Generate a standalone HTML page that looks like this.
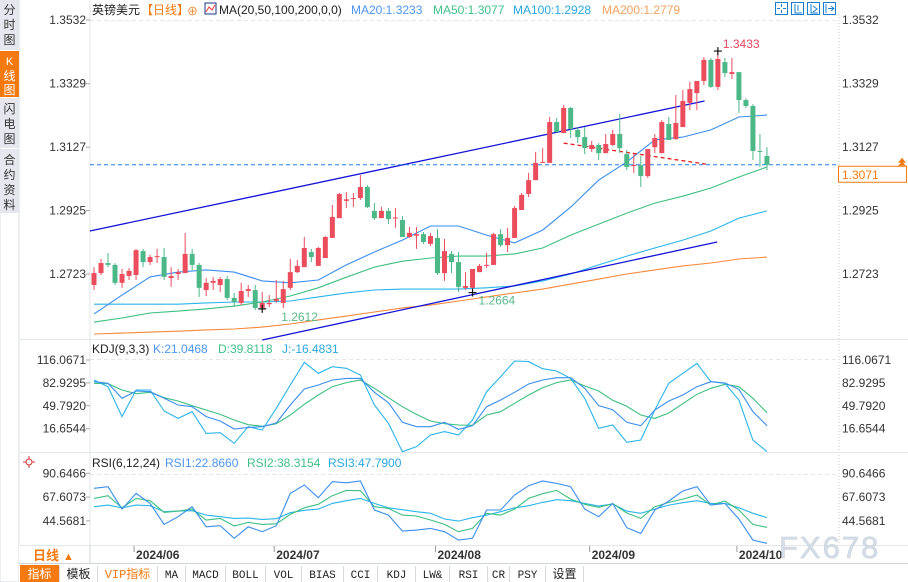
<!DOCTYPE html>
<html><head><meta charset="utf-8"><style>
html,body{margin:0;padding:0;background:#fff;}
body{width:908px;height:582px;overflow:hidden;position:relative;font-family:"Liberation Sans","Noto Sans CJK SC",sans-serif;}
svg{position:absolute;left:0;top:0;}
</style></head><body>
<svg id="chart" width="908" height="582" viewBox="0 0 908 582" xmlns="http://www.w3.org/2000/svg" font-family="Liberation Sans, Noto Sans CJK SC, sans-serif">
  <rect width="908" height="582" fill="#fff"/>
  <g>
    <rect x="0" y="0" width="19" height="582" fill="#fff" stroke="#d8dbe2"/>
    <g><rect x="0" y="0" width="19" height="50" fill="#e6e7ee"/><text x="9.5" y="14" font-size="12" text-anchor="middle" fill="#333">分</text><text x="9.5" y="29" font-size="12" text-anchor="middle" fill="#333">时</text><text x="9.5" y="44" font-size="12" text-anchor="middle" fill="#333">图</text></g>
    <g><rect x="0" y="51" width="19" height="46" fill="#f47a10"/><text x="9.5" y="65" font-size="11" text-anchor="middle" fill="#fff">K</text><text x="9.5" y="80" font-size="12" text-anchor="middle" fill="#fff">线</text><text x="9.5" y="94" font-size="12" text-anchor="middle" fill="#fff">图</text></g>
    <g><rect x="0" y="98" width="19" height="50" fill="#e6e7ee"/><text x="9.5" y="113" font-size="12" text-anchor="middle" fill="#333">闪</text><text x="9.5" y="128" font-size="12" text-anchor="middle" fill="#333">电</text><text x="9.5" y="143" font-size="12" text-anchor="middle" fill="#333">图</text></g>
    <g><rect x="0" y="149" width="19" height="64" fill="#e6e7ee"/><text x="9.5" y="164" font-size="12" text-anchor="middle" fill="#333">合</text><text x="9.5" y="179" font-size="12" text-anchor="middle" fill="#333">约</text><text x="9.5" y="194" font-size="12" text-anchor="middle" fill="#333">资</text><text x="9.5" y="209" font-size="12" text-anchor="middle" fill="#333">料</text></g>
  </g>
  <line x1="90" y1="0" x2="90" y2="546" stroke="#e3e6ea"/>
  <line x1="839" y1="14" x2="839" y2="546" stroke="#c8c8c8" stroke-dasharray="1,2"/>
  <line x1="19" y1="339.5" x2="908" y2="339.5" stroke="#e3e6ea"/>
  <line x1="19" y1="452.5" x2="908" y2="452.5" stroke="#e3e6ea"/>
  <line x1="19" y1="545.5" x2="908" y2="545.5" stroke="#e3e6ea"/>
  <line x1="19" y1="563.5" x2="908" y2="563.5" stroke="#d0d3d8"/>
  <line x1="90" y1="20.5" x2="839" y2="20.5" stroke="#e6e6e6" stroke-dasharray="4,3"/>
  <line x1="90" y1="359.5" x2="839" y2="359.5" stroke="#e6e6e6" stroke-dasharray="4,3"/>
  <line x1="90" y1="474.5" x2="839" y2="474.5" stroke="#e6e6e6" stroke-dasharray="4,3"/>
  <g font-size="12">
    <text x="92" y="14" fill="#222">英镑美元</text>
    <text x="141" y="14" fill="#f47a10">【日线】</text>
    <text x="187" y="15" fill="#f47a10" font-size="11">⊕</text>
    <g><rect x="205" y="3" width="11" height="11" fill="#fff" stroke="#1a3a8a"/><polyline points="206,12 209,7 212,10 215,5" fill="none" stroke="#e33" stroke-width="1"/></g>
    <text x="219" y="14" fill="#222">MA(20,50,100,200,0,0)</text>
    <text x="351" y="14" fill="#4d95f0">MA20:1.3233</text>
    <text x="433" y="14" fill="#3fc08a">MA50:1.3077</text>
    <text x="513" y="14" fill="#2aa8e0">MA100:1.2928</text>
    <text x="602" y="14" fill="#f5a260">MA200:1.2779</text>
  </g>
  <g stroke="#1a7fd0" fill="none">
    <rect x="775.5" y="2.5" width="12" height="12"/><rect x="791.5" y="2.5" width="12" height="12"/><rect x="807.5" y="2.5" width="12" height="12"/><rect x="823.5" y="2.5" width="12" height="12"/>
    <path d="M781.5 4v3M781.5 10v3M777 8.5h3M783 8.5h3M795 4v9h7M798 5v6M811 4v9h7M813 6l4 3-4 3M826 4v9M828 8.5h6M831 6l3 2.5-3 2.5"/>
  </g>
  <g id="axes"></g>
  <g id="overlays"></g>
  <g id="candles"></g>
  <g id="kdj">
    <text x="92" y="353" font-size="12" fill="#222">KDJ(9,3,3)</text>
    <text x="153" y="353" font-size="12" fill="#4d95f0">K:21.0468</text>
    <text x="218" y="353" font-size="12" fill="#3fc08a">D:39.8118</text>
    <text x="282" y="353" font-size="12" fill="#2aa8e0">J:-16.4831</text>
  </g>
  <g id="rsi">
    <g><circle cx="29" cy="462" r="3" fill="none" stroke="#c33"/><path d="M29 456v3M29 465v3M23 462h3M32 462h3" stroke="#c33"/></g>
    <text x="92" y="467" font-size="12" fill="#222">RSI(6,12,24)</text>
    <text x="165" y="467" font-size="12" fill="#4d95f0">RSI1:22.8660</text>
    <text x="247" y="467" font-size="12" fill="#3fc08a">RSI2:38.3154</text>
    <text x="328" y="467" font-size="12" fill="#2aa8e0">RSI3:47.7900</text>
  </g>
  <g>
    <rect x="19" y="546" width="71" height="17" fill="#fff"/>
    <text x="33" y="560" font-size="13" font-weight="bold" fill="#f47a10">日线</text>
    <text x="63" y="560" font-size="11" fill="#f47a10">▲</text>
  </g>
  <g id="xaxis"></g>
  <text x="779" y="558" font-size="31" fill="#d5dde8" stroke="#c5ccd6" stroke-width="0.5" letter-spacing="2">FX678</text>
  <g id="toolbar" font-family="Liberation Mono, Noto Sans CJK SC, monospace" font-size="11"></g>
</svg>
<script>
var opens = [1.2688,1.2726,1.2758,1.2752,1.2695,1.2717,1.2720,1.2796,1.2761,1.2777,1.2777,1.2710,1.2723,1.2726,1.2787,1.2752,1.2672,1.2695,1.2688,1.2707,1.2647,1.2631,1.2669,1.2672,1.2615,1.2627,1.2637,1.2631,1.2679,1.2729,1.2745,1.2793,1.2749,1.2774,1.2838,1.2901,1.2956,1.2962,1.2965,1.3000,1.2924,1.2901,1.2924,1.2900,1.2895,1.2841,1.2845,1.2850,1.2819,1.2838,1.2726,1.2787,1.2761,1.2679,1.2679,1.2729,1.2749,1.2752,1.2850,1.2815,1.2838,1.2927,1.2978,1.3022,1.3077,1.3077,1.3207,1.3172,1.3252,1.3182,1.3159,1.3121,1.3134,1.3108,1.3134,1.3169,1.3105,1.3067,1.3070,1.3035,1.3127,1.3108,1.3201,1.3153,1.3191,1.3268,1.3299,1.3338,1.3405,1.3319,1.3398,1.3360,1.3366,1.3277,1.3258,1.3115,1.3099];
var highs = [1.2745,1.2771,1.2790,1.2758,1.2739,1.2742,1.2803,1.2803,1.2784,1.2803,1.2806,1.2745,1.2739,1.2854,1.2803,1.2758,1.2710,1.2714,1.2714,1.2717,1.2663,1.2695,1.2688,1.2688,1.2666,1.2656,1.2704,1.2701,1.2771,1.2768,1.2841,1.2803,1.2809,1.2844,1.2943,1.2981,1.2984,1.2981,1.3038,1.3006,1.2949,1.2937,1.2933,1.2933,1.2908,1.2873,1.2873,1.2857,1.2854,1.2866,1.2835,1.2796,1.2793,1.2729,1.2739,1.2755,1.2790,1.2854,1.2866,1.2870,1.2940,1.2981,1.3045,1.3112,1.3124,1.3223,1.3220,1.3261,1.3255,1.3191,1.3191,1.3147,1.3140,1.3169,1.3182,1.3233,1.3118,1.3105,1.3099,1.3121,1.3169,1.3213,1.3223,1.3293,1.3309,1.3335,1.3338,1.3414,1.3411,1.3433,1.3411,1.3411,1.3366,1.3283,1.3264,1.3169,1.3127];
var lows = [1.2672,1.2720,1.2745,1.2688,1.2679,1.2704,1.2704,1.2745,1.2752,1.2758,1.2704,1.2682,1.2704,1.2726,1.2736,1.2650,1.2653,1.2672,1.2666,1.2640,1.2618,1.2624,1.2650,1.2608,1.2612,1.2618,1.2631,1.2615,1.2672,1.2726,1.2745,1.2761,1.2749,1.2774,1.2838,1.2901,1.2933,1.2936,1.2959,1.2933,1.2895,1.2901,1.2882,1.2870,1.2841,1.2838,1.2803,1.2819,1.2812,1.2720,1.2701,1.2726,1.2666,1.2672,1.2663,1.2729,1.2742,1.2752,1.2809,1.2793,1.2838,1.2927,1.2968,1.3022,1.3077,1.3077,1.3175,1.3172,1.3156,1.3140,1.3105,1.3112,1.3086,1.3108,1.3131,1.3108,1.3054,1.3045,1.3000,1.3029,1.3108,1.3108,1.3150,1.3150,1.3191,1.3245,1.3245,1.3325,1.3316,1.3309,1.3350,1.3344,1.3236,1.3252,1.3086,1.3064,1.3054];
var closes = [1.2726,1.2758,1.2752,1.2695,1.2723,1.2733,1.2799,1.2761,1.2777,1.2780,1.2714,1.2717,1.2729,1.2787,1.2752,1.2679,1.2695,1.2701,1.2707,1.2647,1.2634,1.2669,1.2675,1.2615,1.2631,1.2631,1.2644,1.2675,1.2729,1.2749,1.2806,1.2777,1.2806,1.2841,1.2905,1.2978,1.2961,1.2965,1.3000,1.2936,1.2901,1.2924,1.2898,1.2903,1.2841,1.2854,1.2850,1.2825,1.2844,1.2726,1.2796,1.2761,1.2682,1.2685,1.2739,1.2749,1.2752,1.2850,1.2815,1.2838,1.2933,1.2975,1.3022,1.3077,1.3080,1.3207,1.3175,1.3252,1.3185,1.3159,1.3124,1.3134,1.3108,1.3137,1.3169,1.3124,1.3064,1.3070,1.3035,1.3121,1.3156,1.3207,1.3150,1.3204,1.3274,1.3312,1.3338,1.3405,1.3319,1.3408,1.3363,1.3366,1.3277,1.3258,1.3115,1.3112,1.3071];
var sampleStep = 4;
var ma20  = [1.2596,1.2656,1.2714,1.2729,1.2736,1.2729,1.2701,1.2695,1.2704,1.2752,1.2793,1.2831,1.2876,1.2876,1.2847,1.2822,1.2863,1.2936,1.3022,1.3080,1.3150,1.3159,1.3182,1.3223,1.3229];
var ma50  = [1.2570,1.2583,1.2599,1.2605,1.2612,1.2621,1.2634,1.2653,1.2679,1.2713,1.2745,1.2764,1.2774,1.2780,1.2780,1.2787,1.2806,1.2847,1.2882,1.2917,1.2949,1.2971,1.2997,1.3032,1.3064];
var ma100 = [1.2627,1.2627,1.2627,1.2627,1.2631,1.2634,1.2634,1.2637,1.2650,1.2663,1.2672,1.2675,1.2675,1.2675,1.2679,1.2685,1.2701,1.2723,1.2752,1.2780,1.2806,1.2831,1.2860,1.2901,1.2924];
var ma200 = [1.2532,1.2535,1.2538,1.2541,1.2545,1.2548,1.2554,1.2564,1.2577,1.2589,1.2602,1.2615,1.2624,1.2637,1.2650,1.2663,1.2675,1.2691,1.2707,1.2723,1.2736,1.2749,1.2758,1.2771,1.2777];
var indStep = 2;
var kVals = [84.7,82.3,60.6,71.2,70.2,60.6,51.0,48.5,34.1,27.8,16.2,18.6,19.6,24.9,51.0,74.1,79.9,87.1,89.5,89.5,69.3,54.3,25.9,19.6,19.6,25.9,15.7,21.0,48.5,58.2,69.3,81.3,87.1,90.5,90.5,75.1,50.0,44.2,25.9,21.0,43.7,56.7,65.4,77.5,84.7,82.8,73.6,41.3,21.0];
var dVals = [82.3,81.8,72.6,67.3,69.3,61.5,56.7,50.0,43.7,37.4,29.2,22.5,20.1,23.9,36.5,51.9,65.4,77.5,83.3,87.1,75.1,61.5,48.5,37.4,27.8,23.9,22.0,21.5,36.5,41.3,53.4,65.4,76.0,83.3,87.1,78.4,71.2,57.7,49.0,36.5,31.6,39.4,52.9,66.4,75.1,80.9,77.5,60.6,39.8];
var jVals = [87.1,77.5,34.1,72.6,72.6,42.3,31.6,41.3,9.9,10.9,-4.5,19.6,14.7,46.1,79.9,112.7,96.8,106.4,104.0,94.4,51.0,24.4,-16.6,-9.4,7.5,12.4,7.5,29.2,70.2,91.9,114.6,113.7,103.5,100.2,89.5,60.6,17.2,22.0,-3.1,0.3,43.7,82.3,96.8,111.2,84.7,82.3,58.2,0.3,-16.5];
var rsi1 = [76.1,77.7,56.0,71.2,61.5,41.2,48.6,58.3,38.9,39.9,27.7,38.9,34.1,39.9,71.2,79.3,67.0,82.5,81.5,83.2,55.1,50.2,34.7,35.7,37.3,34.1,26.0,27.7,55.1,55.1,69.6,78.6,83.2,80.9,77.7,56.0,48.6,61.5,38.0,32.5,55.1,63.8,73.5,77.7,59.9,61.5,46.4,26.0,22.9];
var rsi2 = [66.4,69.0,57.3,66.4,64.1,52.8,54.1,56.0,45.4,47.0,39.6,43.1,41.2,41.8,50.9,57.3,60.6,69.0,74.1,73.8,58.3,56.7,50.2,49.3,45.4,41.2,34.1,37.3,51.9,50.2,56.0,66.4,70.9,74.1,65.7,60.6,57.7,61.2,52.2,47.0,58.3,62.5,65.7,69.6,59.9,63.8,55.1,41.2,38.3];
var rsi3 = [58.3,59.9,57.3,59.9,59.3,53.5,54.1,54.4,50.2,48.6,47.0,47.3,46.0,46.7,52.5,54.8,56.0,61.5,64.1,66.4,61.5,57.3,55.4,53.5,51.9,46.4,44.4,47.7,50.2,53.5,57.3,59.3,62.5,65.1,64.1,61.5,58.9,60.9,54.1,51.9,56.0,59.9,62.2,64.1,61.5,61.5,57.3,51.9,47.8];
var priceTicks = [1.3532,1.3329,1.3127,1.2925,1.2723];
var kdjTicks = [116.0671,82.9295,49.7920,16.6544];
var rsiTicks = [90.6466,67.6073,44.5681];
var monthLabels = ["2024/06","2024/07","2024/08","2024/09","2024/10"];
var monthIndex = [6,26,49,71,92];
var lastPrice = 1.3071;
var highMark = {i:89, p:1.3433, label:"1.3433"};
var lowMarks = [{i:24, p:1.2612, label:"1.2612"},{i:54, p:1.2664, label:"1.2664"}];
var upperChannel = [[-0.6,1.2860],[87.1,1.3274]];
var lowerChannel = [[24.0,1.2513],[88.9,1.2825]];
var dashedTrend = [[67.0,1.3140],[87.3,1.3073]];
var toolbarLabels = ["指标","模板","VIP指标","MA","MACD","BOLL","VOL","BIAS","CCI","KDJ","LW&","RSI","CR","PSY","设置"];
var toolbarX = [20,60,98,158,186,226,266,302,344,378,416,450,488,510,546,584];

function xOf(i){return 94 + i*7.01;}
function yP(p){return 20 + (1.3532 - p)*3140;}
function yK(v){return 360 + (116.07 - v)*0.691;}
function yR(v){return 473.3 + (90.65 - v)*1.033;}
var NS="http://www.w3.org/2000/svg";
function mk(tag, attrs, parent){var e=document.createElementNS(NS,tag);for(var k in attrs)e.setAttribute(k,attrs[k]);parent.appendChild(e);return e;}

var axes=document.getElementById('axes');
function axisLabels(ticks, yf, name){
  ticks.forEach(function(t){
    var y=yf(t);
    var l=mk('text',{x:86,y:y+4,'font-size':12,'text-anchor':'end',fill:'#333'},axes);
    
    
    l.textContent=t.toFixed(4);
    var r=mk('text',{x:842,y:y+4,'font-size':12,fill:'#333'},axes);
    
    
    r.textContent=t.toFixed(4);
    mk('line',{x1:86,x2:90,y1:y,y2:y,stroke:'#aaa'},axes);
  });
}
axisLabels(priceTicks,yP,'price-axis');
axisLabels(kdjTicks,yK,'kdj-axis');
axisLabels(rsiTicks,yR,'rsi-axis');

var ov=document.getElementById('overlays');
function series(arr, step, yf, color, name, parent){
  var pts=arr.map(function(v,k){return xOf(k*step).toFixed(1)+','+yf(v).toFixed(1);}).join(' ');
  var pl=mk('polyline',{points:pts,fill:'none',stroke:color,'stroke-width':1.1},parent);
  
  
}
series(ma200,sampleStep,yP,'#f7893a','ma200-line',ov);
series(ma100,sampleStep,yP,'#2ab4ea','ma100-line',ov);
series(ma50,sampleStep,yP,'#3cbf80','ma50-line',ov);
series(ma20,sampleStep,yP,'#3a8ef0','ma20-line',ov);
function seg(p, color, name, dash){
  var l=mk('line',{x1:xOf(p[0][0]),y1:yP(p[0][1]),x2:xOf(p[1][0]),y2:yP(p[1][1]),stroke:color,'stroke-width':1.3},ov);
  if(dash) l.setAttribute('stroke-dasharray',dash);
  
  
}
seg(upperChannel,'#1414d8','upper-channel-line');
seg(lowerChannel,'#1414d8','lower-channel-line');
seg(dashedTrend,'#e02020','dashed-trend-line','4,3');
var lpY=yP(lastPrice);
var lp=mk('line',{x1:90,x2:839,y1:lpY,y2:lpY,stroke:'#1e7ff0','stroke-dasharray':'4,3'},ov);


var box=mk('rect',{x:838.5,y:lpY+1.5,width:68,height:16,fill:'#fff',stroke:'#f47a10'},ov);


var bt=mk('text',{x:842,y:lpY+14,'font-size':12,fill:'#f47a10'},ov);


bt.textContent=lastPrice.toFixed(4);
mk('path',{d:'M898 '+(lpY-2)+'l4 -5l4 5z M898 '+(lpY+1)+'l4 -4l4 4z',fill:'#f47a10'},ov);

var cg=document.getElementById('candles');
closes.forEach(function(c,i){
  var o=opens[i], up=c>=o, col=up?'#ec4d5d':'#4cb888';
  var x=xOf(i);
  var w=mk('line',{x1:x,x2:x,y1:yP(highs[i]),y2:yP(lows[i]),stroke:col,'stroke-width':1},cg);
  
  
  var t=yP(Math.max(o,c)), b=yP(Math.min(o,c));
  var r=mk('rect',{x:x-2.5,y:t,width:5,height:Math.max(1,b-t),fill:col},cg);
  
  
});
function marker(m){
  var x=xOf(m.i), y=yP(m.p);
  mk('path',{d:'M'+(x-4)+' '+y+'h8M'+x+' '+(y-4)+'v8',stroke:'#111','stroke-width':1.2},cg);
  return [x,y];
}
var hm=marker(highMark);
var ht=mk('text',{x:hm[0]+5,y:hm[1]-3,'font-size':12,fill:'#e8455e'},cg);


ht.textContent=highMark.label;
lowMarks.forEach(function(m){
  var p=marker(m);
  var t=mk('text',{x:p[0]+(m.i<40?19:6),y:p[1]+12,'font-size':12,fill:'#5cb88a'},cg);
  
  
  t.textContent=m.label;
});

var kg=document.getElementById('kdj');
series(dVals,indStep,yK,'#3cbf80','kdj-d-line',kg);
series(jVals,indStep,yK,'#2ab4ea','kdj-j-line',kg);
series(kVals,indStep,yK,'#3a8ef0','kdj-k-line',kg);
var rg=document.getElementById('rsi');
series(rsi3,indStep,yR,'#2ab4ea','rsi3-line',rg);
series(rsi2,indStep,yR,'#3cbf80','rsi2-line',rg);
series(rsi1,indStep,yR,'#3a8ef0','rsi1-line',rg);

var xg=document.getElementById('xaxis');
mk('line',{x1:90,x2:90,y1:546,y2:563,stroke:'#d0d3d8'},xg);
monthLabels.forEach(function(m,k){
  var x=xOf(monthIndex[k]);
  mk('line',{x1:x-2,x2:x-2,y1:546,y2:552,stroke:'#999'},xg);
  var t=mk('text',{x:x,y:559,'font-size':12,'font-weight':'bold',fill:'#333'},xg);
  
  
  t.textContent=m;
});

var tb=document.getElementById('toolbar');
mk('rect',{x:19,y:564,width:889,height:18,fill:'#fff'},tb);
toolbarLabels.forEach(function(lbl,k){
  var x0=toolbarX[k], x1=toolbarX[k+1]-1;
  var g=mk('g',{},tb);
  
  
  mk('rect',{x:x0,y:565,width:x1-x0,height:17,fill:k===0?'#f47a10':'#fff'},g);
  mk('line',{x1:x1+0.5,x2:x1+0.5,y1:566,y2:582,stroke:'#d8dbe0'},g);
  var t=mk('text',{x:(x0+x1)/2,y:578,'text-anchor':'middle','font-size':k<3||k===14?12:11,fill:k===0?'#fff':(k===2?'#f47a10':'#222')},g);
  t.textContent=lbl;
});
</script>
</body></html>
